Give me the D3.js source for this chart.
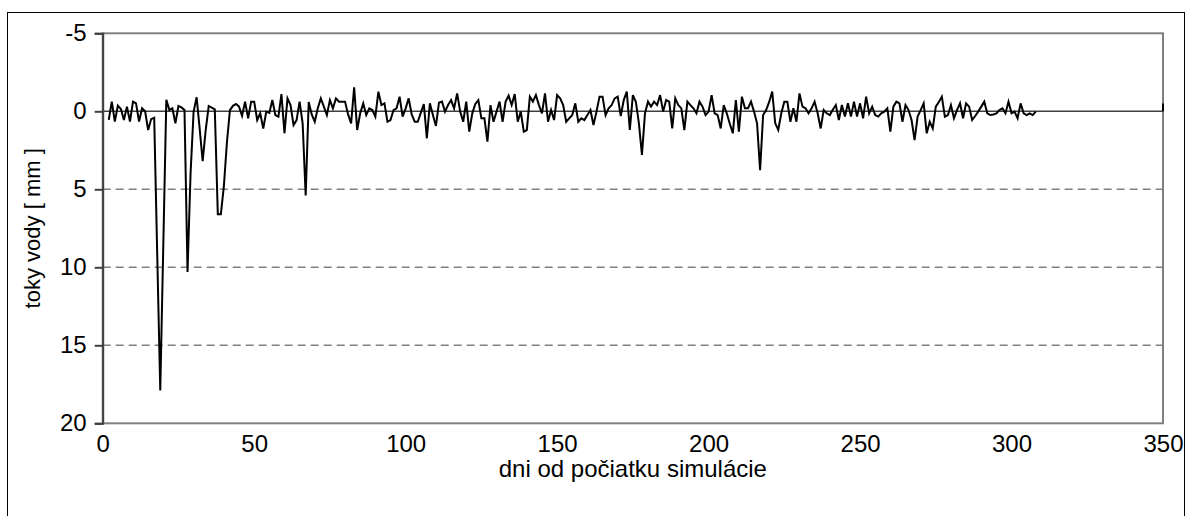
<!DOCTYPE html>
<html>
<head>
<meta charset="utf-8">
<script src="https://cdn.jsdelivr.net/npm/d3@7"></script>
<style>
  html, body { margin: 0; padding: 0; background: #fff; }
  svg { display: block; }
  text { font-family: "Liberation Sans", Arial, sans-serif; fill: #000; }
</style>
</head>
<body>
<svg id="chart" width="1187" height="516"></svg>
<script>
// Daily water flux [mm]; positive values point down the axis (reversed y).
const firstDay = 2;
const flow = [
  0.55, -0.62, 0.66, -0.36, -0.15, 0.56, -0.3, 0.66, -0.62, -0.51,
  0.66, -0.19, 0.0, 1.2, 0.5, 0.41, 9.2, 17.9, 8.6, -0.74,
  -0.09, -0.2, 0.77, -0.34, -0.25, -0.09, 10.3, 4.0, 0.03, -0.9,
  1.1, 3.2, 1.2, -0.34, -0.23, -0.13, 6.6, 6.6, 4.8, 2.0,
  -0.08, -0.35, -0.47, -0.3, 0.3, -0.62, 0.45, -0.62, -0.62, 0.56,
  0.13, 1.1, 0.02, 0.1, -0.72, 0.24, 0.34, -1.1, 1.41, -0.83,
  -0.4, 0.88, 0.56, -0.62, 0.77, 5.4, -0.6, 0.2, 0.67, -0.2,
  -0.83, -0.3, 0.24, -0.72, -0.19, -0.83, -0.62, -0.62, -0.62, 0.2,
  0.77, -1.54, 1.2, 0.13, -0.51, 0.24, -0.19, -0.08, 0.34, -1.26,
  -0.4, -0.51, 0.67, 0.56, -0.08, -0.19, -0.94, 0.34, -0.19, -0.83,
  0.2, 0.67, 0.67, 0.1, -0.47, 1.73, -0.51, 0.24, 0.94, -0.55,
  -0.62, 0.02, -0.4, -0.72, -0.19, -1.15, 0.02, 0.67, -0.62, 1.3,
  0.13, -0.47, -0.72, 0.45, 0.45, 1.95, -0.4, 0.67, 0.02, -0.62,
  0.67, -0.62, -1.0, -0.4, -1.1, 0.67, 0.02, 1.31, 1.2, -0.94,
  -0.62, -1.04, -0.4, 0.13, -1.15, 0.67, -0.08, 0.56, -1.04, -0.83,
  -0.4, 0.67, 0.45, 0.24, -0.51, 0.67, 0.45, 0.56, 0.24, -0.08,
  0.88, 0.02, -0.94, -0.94, 0.24, -0.19, -0.4, -0.83, -0.94, 0.3,
  -0.72, -1.26, 1.2, -1.04, -0.6, 0.77, 2.8, 0.13, -0.62, -0.3,
  -0.62, -0.4, -1.04, 0.02, -0.72, -0.62, 1.1, -0.83, -0.4, -0.19,
  1.2, -0.62, -0.4, -0.19, 0.13, -0.62, -0.3, 0.24, 0.02, -1.04,
  0.13, 0.24, 1.1, -0.4, 0.13, 0.8, 1.41, -0.72, 1.31, -0.94,
  -0.19, -0.19, -0.62, 0.02, 0.77, 3.77, 0.24, -0.08, -0.6, -1.26,
  0.77, 1.2, 0.13, -0.62, -0.62, 0.67, -0.19, 0.67, -1.15, -0.3,
  -0.19, 0.13, -0.19, -0.62, 0.13, 1.1, -0.08, 0.13, 0.24, -0.1,
  -0.4, 0.56, -0.4, 0.34, -0.51, 0.34, -0.62, 0.34, -0.51, 0.45,
  -0.94, 0.13, -0.3, 0.24, 0.34, 0.13, 0.02, -0.19, 1.31, -0.3,
  -0.62, -0.51, 0.67, -0.4, -0.08, 0.56, 1.84, 0.34, -0.08, -0.51,
  1.41, 0.67, 1.1, -0.3, -0.6, -0.94, 0.34, 0.24, -0.4, 0.45,
  -0.08, -0.51, 0.45, -0.51, -0.3, 0.56, 0.3, 0.02, -0.3, -0.62,
  0.13, 0.24, 0.2, 0.13, -0.08, -0.19, 0.13, -0.62, 0.13, 0.02,
  0.45, -0.51, 0.13, 0.24, 0.13, 0.24, 0.02
];
const xTicks = [0, 50, 100, 150, 200, 250, 300, 350];
const yTicks = [-5, 0, 5, 10, 15, 20];
const gridValues = [5, 10, 15];
const xTitle = "dni od počiatku simulácie";
const yTitle = "toky vody [ mm ]";

const svg = d3.select("#chart");
const plot = { left: 102.7, right: 1163, top: 33.3, bottom: 423.3 };

const x = d3.scaleLinear().domain([0, 350]).range([plot.left, plot.right]);
const y = d3.scaleLinear().domain([-5, 20]).range([plot.top, plot.bottom]);

// outer chart frame
svg.append("rect")
  .attr("x", 7.5).attr("y", 12.5)
  .attr("width", 1177).attr("height", 510)
  .attr("fill", "none").attr("stroke", "#000").attr("stroke-width", 1);

// plot area border
svg.append("rect")
  .attr("x", plot.left).attr("y", plot.top)
  .attr("width", plot.right - plot.left).attr("height", plot.bottom - plot.top)
  .attr("fill", "none").attr("stroke", "#808080").attr("stroke-width", 2);

// dashed gridlines
svg.append("g").selectAll("line").data(gridValues).join("line")
  .attr("x1", plot.left).attr("x2", plot.right)
  .attr("y1", d => y(d)).attr("y2", d => y(d))
  .attr("stroke", "#808080").attr("stroke-width", 1.5)
  .attr("stroke-dasharray", "8,5");

// zero line
svg.append("line")
  .attr("x1", plot.left).attr("x2", plot.right)
  .attr("y1", y(0)).attr("y2", y(0))
  .attr("stroke", "#404040").attr("stroke-width", 1.5);

// short marker on the right border at the zero level
svg.append("line")
  .attr("x1", plot.right).attr("x2", plot.right)
  .attr("y1", y(-0.5)).attr("y2", y(0))
  .attr("stroke", "#000").attr("stroke-width", 2);

// y axis
const yAxis = d3.axisLeft(y).tickValues(yTicks).tickSize(8).tickPadding(8)
  .tickFormat(d => String(d));
const gy = svg.append("g").attr("transform", `translate(${plot.left},0)`).call(yAxis);
gy.select(".domain").attr("stroke", "#404040").attr("stroke-width", 2);
gy.selectAll(".tick line").attr("stroke", "#404040").attr("stroke-width", 2);
gy.selectAll(".tick text").attr("font-size", 24).attr("font-family", "Liberation Sans, Arial, sans-serif")
  .attr("fill", "#000");

// x axis labels (no tick marks)
const xAxis = d3.axisBottom(x).tickValues(xTicks).tickSize(0).tickPadding(12)
  .tickFormat(d => String(d));
const gx = svg.append("g").attr("transform", `translate(0,${plot.bottom})`).call(xAxis);
gx.select(".domain").remove();
gx.selectAll(".tick text").attr("font-size", 24).attr("font-family", "Liberation Sans, Arial, sans-serif")
  .attr("fill", "#000");

// flux series
const line = d3.line()
  .x((d, i) => x(firstDay + i))
  .y(d => y(d));
svg.append("path")
  .datum(flow)
  .attr("d", line)
  .attr("fill", "none")
  .attr("stroke", "#000")
  .attr("stroke-width", 2)
  .attr("stroke-linejoin", "miter");

// axis titles
svg.append("text")
  .attr("x", (plot.left + plot.right) / 2).attr("y", 477)
  .attr("text-anchor", "middle").attr("font-size", 24)
  .text(xTitle);

svg.append("text")
  .attr("transform", `translate(40,${(plot.top + plot.bottom) / 2}) rotate(-90)`)
  .attr("text-anchor", "middle").attr("font-size", 22)
  .text(yTitle);
</script>
</body>
</html>
